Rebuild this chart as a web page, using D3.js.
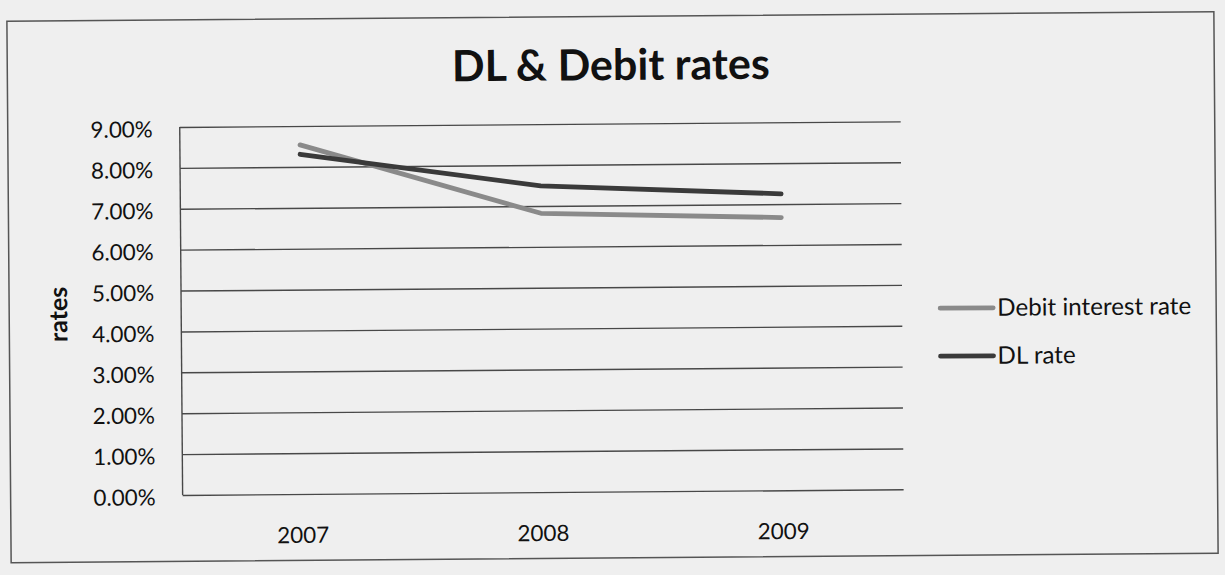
<!DOCTYPE html>
<html>
<head>
<meta charset="utf-8">
<script src="https://cdn.jsdelivr.net/npm/d3@7/dist/d3.min.js"></script>
<style>
  html, body { margin: 0; padding: 0; background: #efefef; }
  svg { display: block; }
  text { font-family: Lato, "Open Sans", sans-serif; fill: #111; }
</style>
</head>
<body>
<svg id="chart" width="1225" height="575"></svg>
<script>
// ---- data ----
const categories = ["2007", "2008", "2009"];
const debitRate = [8.54, 6.82, 6.67];   // Debit interest rate (%)
const dlRate = [8.31, 7.49, 7.25];      // DL rate (%)
const seriesNames = ["Debit interest rate", "DL rate"];
const yTicks = [0, 1, 2, 3, 4, 5, 6, 7, 8, 9];
const chartTitle = "DL & Debit rates";
const yTitle = "rates";

// ---- layout ----
const W = 1225, H = 575;
const plot = { left: 181, right: 902, top: 123.6, bottom: 491.6 };
const colors = ["#8a8a8a", "#3a3a3a"];
const FONT = "Lato, 'Open Sans', sans-serif";

const svg = d3.select("#chart");
svg.append("rect").attr("width", W).attr("height", H).attr("fill", "#efefef");

// whole scanned chart is slightly rotated
const root = svg.append("g").attr("transform", "rotate(-0.45, 612, 287)");

root.append("rect")
  .attr("x", 9).attr("y", 16.5).attr("width", 1207).attr("height", 541.5)
  .attr("fill", "#efefef").attr("stroke", "#555").attr("stroke-width", 1.5);

const x = d3.scaleBand().domain(categories).range([plot.left, plot.right]);
const y = d3.scaleLinear().domain([0, 9]).range([plot.bottom, plot.top]);

// title
root.append("text")
  .attr("x", 612.5).attr("y", 80)
  .attr("text-anchor", "middle")
  .style("font-size", "43px").style("font-weight", "bold")
  .text(chartTitle);

// y axis with gridlines
const yAxis = root.append("g")
  .attr("transform", `translate(${plot.left},0)`)
  .call(d3.axisLeft(y).tickValues(yTicks)
    .tickSize(-(plot.right - plot.left))
    .tickPadding(27)
    .tickFormat(d => d.toFixed(2) + "%"));
yAxis.select(".domain").remove();
yAxis.selectAll(".tick line").attr("stroke", "#484848").attr("stroke-width", 1.4);
yAxis.selectAll(".tick text")
  .attr("dy", "0.43em")
  .style("font-size", "22.4px").style("font-family", FONT).attr("fill", "#111");

// vertical axis line
root.append("line")
  .attr("x1", plot.left).attr("x2", plot.left)
  .attr("y1", y(9)).attr("y2", y(0))
  .attr("stroke", "#484848").attr("stroke-width", 1.4);

// x axis labels
const xAxis = root.append("g")
  .attr("transform", `translate(0,${plot.bottom})`)
  .call(d3.axisBottom(x).tickSize(0).tickPadding(33));
xAxis.select(".domain").remove();
xAxis.selectAll(".tick text")
  .style("font-size", "22.4px").style("font-family", FONT).attr("fill", "#111");

// y axis title
root.append("text")
  .attr("transform", "translate(57,310) rotate(-90)")
  .attr("text-anchor", "middle")
  .attr("dominant-baseline", "central")
  .style("font-size", "25px").style("font-weight", "bold")
  .text(yTitle);

// lines
const series = [debitRate, dlRate];
const line = d3.line()
  .x((d, i) => x(categories[i]) + x.bandwidth() / 2)
  .y(d => y(d));

series.forEach((vals, k) => {
  root.append("path")
    .datum(vals)
    .attr("d", line)
    .attr("fill", "none")
    .attr("stroke", colors[k])
    .attr("stroke-width", 4.8)
    .attr("stroke-linecap", "round")
    .attr("stroke-linejoin", "round");
});

// legend
const legendY = [310.8, 358.8];
seriesNames.forEach((name, k) => {
  const g = root.append("g");
  g.append("line")
    .attr("x1", 940).attr("x2", 993)
    .attr("y1", legendY[k]).attr("y2", legendY[k])
    .attr("stroke", colors[k]).attr("stroke-width", 4.8)
    .attr("stroke-linecap", "round");
  g.append("text")
    .attr("x", 997).attr("y", legendY[k] + 8)
    .style("font-size", "24.2px")
    .text(name);
});
</script>
</body>
</html>
